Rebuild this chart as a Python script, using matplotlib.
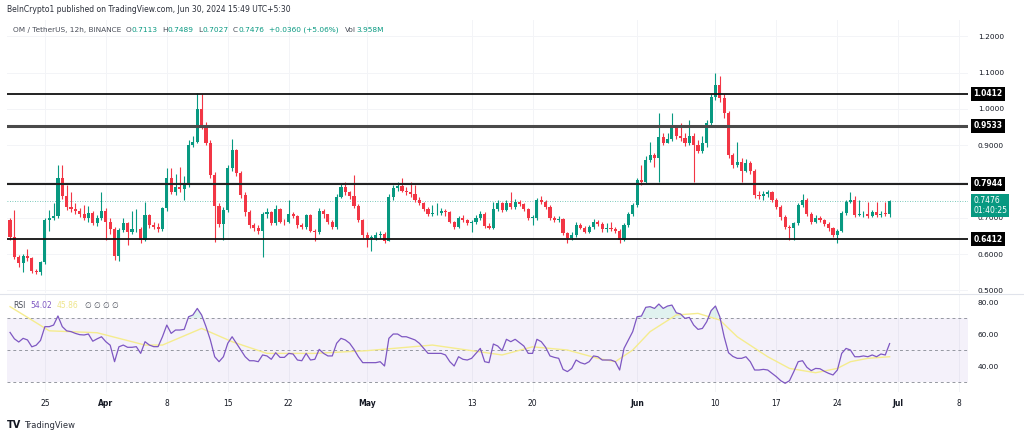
import matplotlib
matplotlib.use("Agg")
import matplotlib.pyplot as plt
import matplotlib.dates as mdates
import matplotlib.transforms as mtransforms
import numpy as np
import pandas as pd

# OM / TetherUS 12h candles (Binance), 2024-03-21 00:00 .. 2024-06-30 00:00
first_open = 0.694
closes = [
    0.648, 0.592, 0.576, 0.595, 0.590, 0.553, 0.550, 0.578, 0.695, 0.700,
    0.706, 0.810, 0.760, 0.730, 0.725, 0.718, 0.710, 0.700, 0.713, 0.685,
    0.700, 0.720, 0.690, 0.670, 0.595, 0.667, 0.685, 0.660, 0.668, 0.668,
    0.638, 0.708, 0.680, 0.676, 0.670, 0.727, 0.810, 0.770, 0.785, 0.780,
    0.790, 0.900, 0.910, 1.000, 0.954, 0.907, 0.818, 0.733, 0.683, 0.722,
    0.837, 0.887, 0.824, 0.763, 0.716, 0.680, 0.672, 0.665, 0.710, 0.715,
    0.685, 0.725, 0.690, 0.688, 0.710, 0.705, 0.680, 0.675, 0.708, 0.665,
    0.660, 0.720, 0.710, 0.690, 0.675, 0.758, 0.785, 0.770, 0.760, 0.733,
    0.694, 0.653, 0.645, 0.645, 0.652, 0.655, 0.637, 0.757, 0.782, 0.787,
    0.775, 0.770, 0.765, 0.750, 0.740, 0.725, 0.710, 0.713, 0.713, 0.720,
    0.715, 0.689, 0.675, 0.700, 0.693, 0.685, 0.688, 0.700, 0.712, 0.678,
    0.672, 0.725, 0.742, 0.722, 0.740, 0.730, 0.745, 0.738, 0.725, 0.700,
    0.700, 0.749, 0.745, 0.730, 0.700, 0.695, 0.697, 0.658, 0.645, 0.652,
    0.680, 0.672, 0.662, 0.675, 0.688, 0.683, 0.668, 0.672, 0.670, 0.664,
    0.639, 0.680, 0.710, 0.735, 0.804, 0.800, 0.860, 0.873, 0.865, 0.923,
    0.907, 0.918, 0.947, 0.925, 0.920, 0.905, 0.925, 0.900, 0.885, 0.905,
    0.960, 1.033, 1.066, 1.030, 0.989, 0.873, 0.846, 0.855, 0.829, 0.850,
    0.830, 0.763, 0.760, 0.767, 0.770, 0.750, 0.730, 0.702, 0.675, 0.671,
    0.685, 0.736, 0.750, 0.710, 0.689, 0.700, 0.695, 0.683, 0.671, 0.653,
    0.665, 0.713, 0.744, 0.750, 0.708, 0.710, 0.710, 0.705, 0.715, 0.708,
    0.712, 0.7113, 0.7476,
]
highs = [
    0.700, 0.722, 0.598, 0.600, 0.615, 0.593, 0.560, 0.582, 0.700, 0.722,
    0.740, 0.846, 0.846, 0.790, 0.770, 0.740, 0.728, 0.735, 0.732, 0.720,
    0.708, 0.770, 0.728, 0.700, 0.675, 0.672, 0.700, 0.690, 0.720, 0.725,
    0.675, 0.745, 0.712, 0.690, 0.685, 0.730, 0.838, 0.838, 0.820, 0.840,
    0.815, 0.915, 0.925, 1.044, 1.040, 0.965, 0.915, 0.825, 0.740, 0.730,
    0.845, 0.917, 0.890, 0.830, 0.770, 0.722, 0.685, 0.680, 0.715, 0.728,
    0.718, 0.735, 0.728, 0.698, 0.750, 0.715, 0.708, 0.685, 0.712, 0.712,
    0.670, 0.728, 0.725, 0.712, 0.695, 0.765, 0.795, 0.800, 0.775, 0.818,
    0.738, 0.698, 0.660, 0.652, 0.660, 0.665, 0.660, 0.765, 0.790, 0.800,
    0.810, 0.785, 0.800, 0.790, 0.758, 0.745, 0.730, 0.735, 0.740, 0.728,
    0.725, 0.718, 0.692, 0.705, 0.708, 0.698, 0.695, 0.708, 0.720, 0.715,
    0.685, 0.745, 0.750, 0.745, 0.748, 0.771, 0.752, 0.750, 0.742, 0.728,
    0.708, 0.755, 0.760, 0.750, 0.735, 0.705, 0.705, 0.700, 0.662, 0.660,
    0.688, 0.685, 0.678, 0.680, 0.698, 0.695, 0.688, 0.685, 0.690, 0.675,
    0.668, 0.685, 0.715, 0.742, 0.810, 0.846, 0.870, 0.910, 0.880, 0.990,
    0.935, 0.935, 0.990, 0.955, 0.960, 0.935, 0.970, 0.935, 0.915, 0.925,
    0.970, 1.040, 1.100, 1.090, 1.040, 0.995, 0.880, 0.910, 0.865, 0.862,
    0.858, 0.835, 0.775, 0.775, 0.778, 0.775, 0.755, 0.735, 0.708, 0.680,
    0.690, 0.740, 0.765, 0.755, 0.715, 0.708, 0.705, 0.698, 0.688, 0.675,
    0.670, 0.718, 0.750, 0.770, 0.760, 0.750, 0.718, 0.745, 0.722, 0.745,
    0.718, 0.745, 0.7489,
]
lows = [
    0.640, 0.588, 0.565, 0.551, 0.580, 0.548, 0.545, 0.542, 0.572, 0.665,
    0.695, 0.700, 0.752, 0.722, 0.715, 0.710, 0.702, 0.695, 0.690, 0.680,
    0.678, 0.695, 0.640, 0.655, 0.585, 0.580, 0.660, 0.625, 0.655, 0.660,
    0.632, 0.635, 0.672, 0.668, 0.662, 0.665, 0.720, 0.765, 0.762, 0.770,
    0.750, 0.785, 0.895, 0.905, 0.945, 0.900, 0.810, 0.634, 0.675, 0.640,
    0.715, 0.830, 0.815, 0.755, 0.705, 0.672, 0.665, 0.655, 0.592, 0.700,
    0.680, 0.680, 0.685, 0.680, 0.685, 0.700, 0.672, 0.668, 0.670, 0.660,
    0.635, 0.655, 0.700, 0.682, 0.668, 0.670, 0.755, 0.762, 0.752, 0.728,
    0.688, 0.645, 0.620, 0.609, 0.638, 0.645, 0.630, 0.635, 0.750, 0.775,
    0.770, 0.762, 0.758, 0.745, 0.735, 0.720, 0.705, 0.705, 0.708, 0.708,
    0.705, 0.685, 0.670, 0.672, 0.688, 0.680, 0.660, 0.682, 0.695, 0.672,
    0.668, 0.670, 0.720, 0.715, 0.718, 0.725, 0.725, 0.732, 0.720, 0.695,
    0.680, 0.695, 0.738, 0.725, 0.695, 0.688, 0.690, 0.652, 0.632, 0.640,
    0.648, 0.668, 0.658, 0.658, 0.670, 0.678, 0.662, 0.662, 0.665, 0.658,
    0.632, 0.636, 0.675, 0.705, 0.730, 0.790, 0.795, 0.855, 0.840, 0.800,
    0.900, 0.905, 0.912, 0.918, 0.912, 0.898, 0.900, 0.800, 0.878, 0.880,
    0.895, 0.955, 1.025, 1.020, 0.975, 0.865, 0.838, 0.840, 0.800, 0.825,
    0.822, 0.755, 0.752, 0.750, 0.758, 0.745, 0.725, 0.695, 0.668, 0.640,
    0.640, 0.680, 0.730, 0.705, 0.682, 0.685, 0.690, 0.678, 0.665, 0.648,
    0.630, 0.660, 0.708, 0.740, 0.702, 0.705, 0.702, 0.700, 0.702, 0.702,
    0.702, 0.705, 0.7027,
]

# RSI(14) per candle and its moving average (read at fewer points)
rsi = [
    61, 57, 55, 57.3, 56.3, 52, 53, 56, 64.6, 64.6,
    65.6, 71.3, 64.6, 62, 61.5, 60.4, 59.6, 59.4, 60, 55.5,
    57, 58.3, 55.2, 53, 42.7, 52, 53.1, 51.7, 51.7, 52.1,
    47.9, 55.2, 53.1, 52.1, 52.1, 58.3, 65.6, 60.4, 62.5, 62.5,
    62.9, 70.8, 71.9, 76.0, 71.9, 64.6, 56.3, 45.8, 42.7, 45.8,
    54.2, 58.3, 54.2, 50, 45.8, 43.3, 43.3, 42.7, 46.9, 46.3,
    44.2, 48.3, 45.4, 45.4, 47.9, 47.5, 43.75, 43.3, 47.9, 43.75,
    44.2, 50.4, 47.9, 46.3, 46.3, 54.2, 57.3, 56.3, 54.2, 50.4,
    45.8, 42.1, 42.1, 42.1, 42.1, 42.7, 40, 57.3, 60, 60,
    58.3, 58.3, 57.3, 56.3, 54.2, 51, 47.9, 47.9, 47.9, 47.9,
    46.9, 42.7, 40, 45.8, 44.2, 43.75, 44.8, 47.9, 51, 42.7,
    42.1, 53.75, 52.5, 49.6, 56.7, 55.2, 56.7, 54.6, 52.5, 47.9,
    47.9, 56.7, 55.2, 51.7, 46.3, 45.4, 44.8, 37.9, 36.5, 38.5,
    43.75, 42.1, 41.25, 42.7, 46.3, 45.8, 43.75, 43.75, 43.75, 42.7,
    37.5, 51, 56.3, 61.5, 70.8, 71.25, 76.7, 77.1, 76, 78.75,
    76, 77.5, 78.1, 73.3, 72.5, 69.8, 70.4, 65.6, 62.9, 63.5,
    67.7, 74.6, 77.5, 70.8, 58.3, 48.3, 46, 44.8, 44.8, 45.8,
    42.7, 37.5, 37.5, 37.9, 37.5, 35.4, 33.3, 30.8, 29.2, 30.8,
    36.5, 42.7, 43.3, 39.2, 37.1, 38.5, 38.3, 36.7, 35.4, 34.4,
    37.5, 47.9, 51, 50, 45.8, 45.8, 46.3, 45.8, 46.9, 45.8,
    47.5, 46.9, 54.02,
]
rsi_ma_idx = [0, 5, 9, 20, 31, 35, 44, 51, 59, 70, 82, 97, 105, 113, 120, 128,
              135, 139, 143, 147, 153, 158, 163, 167, 174, 179, 185, 190, 193, 197, 202]
rsi_ma = [77.1, 68.75, 62, 60.8, 53.1, 53.1, 63.5, 55.2, 47.9, 47.9, 49.6, 53.1,
          50, 46.9, 52, 50, 44.8, 42.7, 50, 61.5, 71.9, 72.9, 68.75, 58.3, 45.8,
          38.5, 35.8, 38.5, 42.7, 44.8, 45.8]

levels = [1.0412, 0.9533, 0.7944, 0.6412]
price_ticks = [0.5, 0.6, 0.7, 0.9, 1.0, 1.1, 1.2]   # 0.8000 sits behind the 0.7944 tag
date_ticks = ["2024-03-25", "2024-04-01", "2024-04-08", "2024-04-15", "2024-04-22",
              "2024-05-01", "2024-05-13", "2024-05-20", "2024-06-01", "2024-06-10",
              "2024-06-17", "2024-06-24", "2024-07-01", "2024-07-08"]
date_labels = ["25", "Apr", "8", "15", "22", "May", "13", "20", "Jun", "10",
               "17", "24", "Jul", "8"]

GREEN = "#089981"
RED = "#f23645"
TXT = "#131722"
GREY = "#4a4e59"
GRID = "#f3f4f7"

plt.rcParams["font.family"] = ["DejaVu Sans"]

times = pd.date_range("2024-03-21 00:00", periods=len(closes), freq="12h")
x = mdates.date2num(times.to_pydatetime())
c = np.array(closes)
o = np.concatenate([[first_open], c[:-1]])
h = np.array(highs)
l = np.array(lows)
up = c >= o

W, H = 1024, 437
fig = plt.figure(figsize=(W / 100, H / 100), dpi=100)


def fx(px):
    return px / W


def fy(py):
    return 1 - py / H


ax = fig.add_axes([fx(7), fy(293), fx(968) - fx(7), fy(20) - fy(293)])
ax_r = fig.add_axes([fx(7), fy(392), fx(968) - fx(7), fy(295) - fy(392)], sharex=ax)

x0 = mdates.date2num(pd.Timestamp("2024-03-21").to_pydatetime())
ax.set_xlim(x0 - 0.35, x0 + 110.0)
ax.set_ylim(0.4931, 1.245)
ax_r.set_ylim(23.75, 84.4)

for a in (ax, ax_r):
    for s in a.spines.values():
        s.set_visible(False)
    a.tick_params(length=0, colors=TXT, labelsize=5.3)
    a.set_facecolor("white")

# grid
tick_nums = [mdates.date2num(pd.Timestamp(d).to_pydatetime()) for d in date_ticks]
for t in tick_nums:
    ax.axvline(t, color=GRID, lw=0.7, zorder=0)
    ax_r.axvline(t, color=GRID, lw=0.7, zorder=0)
for p in price_ticks + [0.8]:
    ax.axhline(p, color=GRID, lw=0.7, zorder=0)

# candles
col = np.where(up, GREEN, RED)
ax.vlines(x, l, h, colors=col, lw=0.8, zorder=2)
body = np.maximum(np.abs(c - o), 0.0015)
ax.bar(x, body, bottom=np.minimum(o, c), width=0.36, color=col, lw=0, zorder=3)

# current price line
ax.axhline(closes[-1], color=GREEN, lw=0.6, ls=(0, (1, 2)), alpha=0.7, zorder=1)

# support / resistance lines
lw_map = {1.0412: 1.3, 0.9533: 2.2, 0.7944: 1.5, 0.6412: 1.3}
lc_map = {1.0412: "#111111", 0.9533: "#4a4a4a", 0.7944: "#222222", 0.6412: "#111111"}
for lev in levels:
    ax.axhline(lev, color=lc_map[lev], lw=lw_map[lev], zorder=4)

# price scale
ax.yaxis.tick_right()
ax.set_yticks(price_ticks)
ax.set_yticklabels([f"{p:.4f}" for p in price_ticks])
ax.tick_params(axis="y", pad=7)
ax.tick_params(axis="x", labelbottom=False)

blend = mtransforms.blended_transform_factory(ax.transAxes, ax.transData)
for lev in levels:
    ax.text(1.0055, lev, f"{lev:.4f}", transform=blend, ha="left", va="center",
            fontsize=5.5, fontweight="bold", color="white", clip_on=False, zorder=10,
            bbox=dict(boxstyle="square,pad=0.32", fc="black", ec="none"))
ax.text(1.0055, closes[-1] + 0.013, f"{closes[-1]:.4f}\n01:40:25", transform=blend,
        ha="left", va="top", fontsize=5.5, color="white", linespacing=1.15,
        clip_on=False, zorder=10,
        bbox=dict(boxstyle="square,pad=0.28", fc=GREEN, ec="none"))

# RSI pane
ax_r.axhspan(30, 70, color="#7e57c2", alpha=0.08, lw=0, zorder=0)
for lvl in (70, 50, 30):
    ax_r.axhline(lvl, color="#9598a1", lw=0.7, ls=(0, (3, 3)), zorder=1)
r = np.array(rsi)
ax_r.fill_between(x, 70, r, where=r > 70, interpolate=True, color=GREEN, alpha=0.12,
                  lw=0, zorder=1)
ax_r.fill_between(x, 30, r, where=r < 30, interpolate=True, color=RED, alpha=0.12,
                  lw=0, zorder=1)
ax_r.plot(x[rsi_ma_idx], rsi_ma, color="#f5ec8e", lw=1.0, zorder=2)
ax_r.plot(x, r, color="#7e57c2", lw=0.9, zorder=3)

ax_r.yaxis.tick_right()
ax_r.set_yticks([80, 60, 40])
ax_r.set_yticklabels(["80.00", "60.00", "40.00"])
ax_r.tick_params(axis="y", pad=7)
ax_r.set_xticks(tick_nums)
ax_r.set_xticklabels(date_labels)
ax_r.tick_params(axis="x", pad=5, labelsize=5.5)
for lab in ax_r.get_xticklabels():
    if lab.get_text() in ("Apr", "May", "Jun", "Jul"):
        lab.set_fontweight("bold")

# pane separator
fig.add_artist(plt.Line2D([fx(0), fx(1024)], [fy(294), fy(294)], color="#e0e3eb", lw=0.8))

# header
fig.text(fx(7), fy(10), "BeInCrypto1 published on TradingView.com, Jun 30, 2024 15:49 UTC+5:30",
         fontsize=5.5, color="#2a2e39", va="center")

renderer = fig.canvas.get_renderer()
pieces = [("OM / TetherUS, 12h, BINANCE", GREY, 4.5),
          ("O", GREY, 0.5), ("0.7113", GREEN, 4),
          ("H", GREY, 0.5), ("0.7489", GREEN, 4),
          ("L", GREY, 0.5), ("0.7027", GREEN, 4),
          ("C", GREY, 0.5), ("0.7476", GREEN, 5),
          ("+0.0360 (+5.06%)", GREEN, 6),
          ("Vol", GREY, 0.5), ("3.958M", GREEN, 0)]
cur = 13
for s, cc, gap in pieces:
    t = fig.text(fx(cur), fy(30), s, fontsize=5.3, color=cc, va="center")
    cur += t.get_window_extent(renderer).width + gap

# RSI legend
fig.text(fx(13), fy(305), "RSI", fontsize=5.5, color=GREY, va="center")
fig.text(fx(30), fy(305), "54.02", fontsize=5.5, color="#7e57c2", va="center")
fig.text(fx(57), fy(305), "45.86", fontsize=5.5, color="#eee58a", va="center")
for px in (84, 93, 102, 111):
    fig.text(fx(px), fy(305), "\u2205", fontsize=5.5, color=GREY, va="center")

# footer logo
fig.text(fx(7), fy(425), "TV", fontsize=7, fontweight="heavy", color=TXT, va="center")
fig.text(fx(24), fy(425), "TradingView", fontsize=6, color="#2a2e39", va="center")

fig.savefig("out.png", dpi=100, facecolor="white")
